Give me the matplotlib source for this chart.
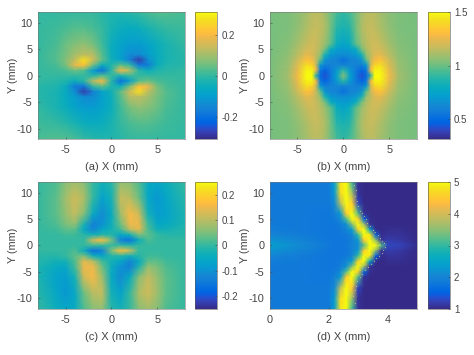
import numpy as np
import matplotlib
matplotlib.use('Agg')
import matplotlib.pyplot as plt
from matplotlib.colors import LinearSegmentedColormap

plt.rcParams['font.family'] = ['Liberation Sans', 'DejaVu Sans']
plt.rcParams['axes.unicode_minus'] = False

parula_colors = [
    [0.2081,0.1663,0.5292],[0.2116,0.1898,0.5777],[0.2123,0.2138,0.6270],[0.2081,0.2386,0.6771],
    [0.1959,0.2645,0.7279],[0.1707,0.2919,0.7792],[0.1253,0.3242,0.8303],[0.0591,0.3598,0.8683],
    [0.0117,0.3875,0.8820],[0.0060,0.4086,0.8828],[0.0165,0.4266,0.8786],[0.0329,0.4430,0.8720],
    [0.0498,0.4586,0.8641],[0.0629,0.4737,0.8554],[0.0723,0.4887,0.8467],[0.0779,0.5040,0.8384],
    [0.0793,0.5200,0.8312],[0.0749,0.5375,0.8263],[0.0641,0.5570,0.8240],[0.0488,0.5772,0.8228],
    [0.0343,0.5966,0.8199],[0.0265,0.6137,0.8135],[0.0239,0.6287,0.8038],[0.0231,0.6418,0.7913],
    [0.0228,0.6535,0.7768],[0.0267,0.6642,0.7607],[0.0384,0.6743,0.7436],[0.0590,0.6838,0.7254],
    [0.0843,0.6928,0.7062],[0.1133,0.7015,0.6859],[0.1453,0.7098,0.6646],[0.1801,0.7177,0.6424],
    [0.2178,0.7250,0.6193],[0.2586,0.7317,0.5954],[0.3022,0.7376,0.5712],[0.3482,0.7424,0.5473],
    [0.3953,0.7459,0.5244],[0.4420,0.7481,0.5033],[0.4871,0.7491,0.4840],[0.5300,0.7491,0.4661],
    [0.5709,0.7485,0.4494],[0.6099,0.7473,0.4337],[0.6473,0.7456,0.4188],[0.6834,0.7435,0.4044],
    [0.7184,0.7411,0.3905],[0.7525,0.7384,0.3768],[0.7858,0.7356,0.3633],[0.8185,0.7327,0.3498],
    [0.8507,0.7299,0.3360],[0.8824,0.7274,0.3217],[0.9139,0.7258,0.3063],[0.9450,0.7261,0.2886],
    [0.9739,0.7314,0.2666],[0.9938,0.7455,0.2403],[0.9990,0.7653,0.2164],[0.9955,0.7861,0.1967],
    [0.9880,0.8066,0.1794],[0.9789,0.8271,0.1633],[0.9697,0.8481,0.1475],[0.9626,0.8705,0.1309],
    [0.9589,0.8949,0.1132],[0.9598,0.9218,0.0948],[0.9661,0.9514,0.0755],[0.9763,0.9831,0.0538],
]
parula = LinearSegmentedColormap.from_list('parula', parula_colors, N=256)

# sample positions of the hand read grids, rows go from top to bottom
x_ac = [-8,-6,-5,-4,-3,-2,-1,0,1,2,3,4,5,6,8]
y_ac = [12,9,6,4,3,2,1,0,-1,-2,-3,-4,-6,-9,-12]
x_b = [-8,-6,-5,-4,-3.4,-3,-2.5,-2,-1.4,-.7,0,.7,1.4,2,2.5,3,3.4,4,5,6,8]
y_b = [12,9,6,5,4,3,2,1,0,-1,-2,-3,-4,-5,-6,-9,-12]
x_d = [0,1,2,2.2,2.4,2.6,2.8,3,3.2,3.4,3.6,3.8,4,4.4,5]
y_d = [12,10,8,6,5,4,3,2,1,0,-1,-2,-3,-4,-5,-6,-8,-10,-12]

values_a = [
    [0,0,0,0,0,0,-.01,-.02,-.02,-.01,0,.02,.03,.03,.02],
    [0,.01,.02,.03,.03,.02,0,-.03,-.05,-.06,-.05,-.03,-.01,0,.01],
    [0,.02,.05,.07,.08,.06,.01,-.05,-.08,-.10,-.10,-.08,-.05,-.03,0],
    [0,.03,.06,.10,.13,.12,.03,-.05,-.09,-.14,-.14,-.10,-.06,-.03,-.01],
    [0,.03,.07,.13,.27,.15,.04,-.04,-.08,-.16,-.28,-.13,-.06,-.03,-.01],
    [0,.02,.06,.18,.22,.06,-.05,-.02,.04,0,-.18,-.17,-.05,-.02,-.01],
    [0,.01,.02,.05,.03,-.10,-.20,-.01,.20,.12,-.01,-.05,-.02,-.01,0],
    [0,0,0,0,0,-.01,.03,0,-.03,.01,0,0,0,0,0],
    [0,-.01,-.02,-.05,-.01,.12,.20,-.01,-.20,-.10,.03,.05,.02,.01,0],
    [-.01,-.02,-.05,-.17,-.18,0,.04,-.02,-.05,.06,.22,.18,.06,.02,0],
    [-.01,-.03,-.06,-.13,-.28,-.16,-.08,-.04,.04,.15,.27,.13,.07,.03,0],
    [-.01,-.03,-.06,-.10,-.14,-.14,-.09,-.05,.03,.12,.13,.10,.06,.03,0],
    [0,-.03,-.05,-.08,-.10,-.10,-.08,-.05,.01,.06,.08,.07,.05,.02,0],
    [.01,0,-.01,-.03,-.05,-.06,-.05,-.03,0,.02,.03,.03,.02,.01,0],
    [.02,.03,.03,.02,0,-.01,-.02,-.02,-.01,0,0,0,0,0,0],
]

values_b = [
    [1.02,1.03,1.05,1.10,1.14,1.15,1.14,1.10,1.02,.94,.90,.94,1.02,1.10,1.14,1.15,1.14,1.10,1.05,1.03,1.02],
    [1.02,1.03,1.06,1.12,1.16,1.17,1.16,1.12,1.02,.88,.85,.88,1.02,1.12,1.16,1.17,1.16,1.12,1.06,1.03,1.02],
    [1.02,1.04,1.10,1.17,1.20,1.18,1.14,1.08,.98,.80,.75,.80,.98,1.08,1.14,1.18,1.20,1.17,1.10,1.04,1.02],
    [1.02,1.05,1.12,1.20,1.20,1.18,1.12,1.02,.80,.72,.70,.72,.80,1.02,1.12,1.18,1.20,1.20,1.12,1.05,1.02],
    [1.02,1.06,1.14,1.24,1.22,1.16,1.08,.85,.70,.66,.65,.66,.70,.85,1.08,1.16,1.22,1.24,1.14,1.06,1.02],
    [1.02,1.07,1.18,1.32,1.28,1.18,.98,.68,.62,.60,.52,.60,.62,.68,.98,1.18,1.28,1.32,1.18,1.07,1.02],
    [1.02,1.08,1.22,1.42,1.38,1.20,.70,.60,.60,.62,.60,.62,.60,.60,.70,1.20,1.38,1.42,1.22,1.08,1.02],
    [1.02,1.09,1.25,1.48,1.48,1.30,.55,.47,.56,.70,.90,.70,.56,.47,.55,1.30,1.48,1.48,1.25,1.09,1.02],
    [1.02,1.10,1.27,1.50,1.50,.90,.50,.42,.55,.75,1.05,.75,.55,.42,.50,.90,1.50,1.50,1.27,1.10,1.02],
    [1.02,1.09,1.25,1.48,1.48,1.30,.55,.47,.56,.70,.90,.70,.56,.47,.55,1.30,1.48,1.48,1.25,1.09,1.02],
    [1.02,1.08,1.22,1.42,1.38,1.20,.70,.60,.60,.62,.60,.62,.60,.60,.70,1.20,1.38,1.42,1.22,1.08,1.02],
    [1.02,1.07,1.18,1.32,1.28,1.18,.98,.68,.62,.60,.52,.60,.62,.68,.98,1.18,1.28,1.32,1.18,1.07,1.02],
    [1.02,1.06,1.14,1.24,1.22,1.16,1.08,.85,.70,.66,.65,.66,.70,.85,1.08,1.16,1.22,1.24,1.14,1.06,1.02],
    [1.02,1.05,1.12,1.20,1.20,1.18,1.12,1.02,.80,.72,.70,.72,.80,1.02,1.12,1.18,1.20,1.20,1.12,1.05,1.02],
    [1.02,1.04,1.10,1.17,1.20,1.18,1.14,1.08,.98,.80,.75,.80,.98,1.08,1.14,1.18,1.20,1.17,1.10,1.04,1.02],
    [1.02,1.03,1.06,1.12,1.16,1.17,1.16,1.12,1.02,.88,.85,.88,1.02,1.12,1.16,1.17,1.16,1.12,1.06,1.03,1.02],
    [1.02,1.03,1.05,1.10,1.14,1.15,1.14,1.10,1.02,.94,.90,.94,1.02,1.10,1.14,1.15,1.14,1.10,1.05,1.03,1.02],
]

values_c = [
    [0,.02,.06,.08,.06,0,-.03,-.01,.07,.06,.02,-.05,-.06,-.04,0],
    [0,.03,.08,.12,.09,0,-.07,-.03,.11,.10,.04,-.06,-.09,-.06,-.01],
    [0,.03,.07,.11,.06,-.05,-.11,-.05,.08,.16,.12,-.03,-.08,-.07,-.02],
    [0,.02,.05,.07,-.02,-.13,-.10,-.04,.04,.15,.15,.01,-.06,-.05,-.02],
    [0,.01,.03,.03,-.05,-.12,-.06,-.03,.01,.10,.14,.02,-.03,-.03,-.01],
    [0,0,.01,.01,-.01,-.03,-.01,-.01,-.06,-.03,.05,.03,0,-.01,-.01],
    [0,0,0,0,0,.12,.17,.05,-.13,-.16,-.04,.02,0,0,0],
    [0,0,0,0,0,.01,0,0,0,-.01,0,0,0,0,0],
    [0,0,0,.02,-.04,-.16,-.13,.05,.17,.12,0,0,0,0,0],
    [-.01,-.01,0,.03,.05,-.03,-.06,-.01,-.01,-.03,-.01,.01,.01,0,0],
    [-.01,-.03,-.03,.02,.14,.10,.01,-.03,-.06,-.12,-.05,.03,.03,.01,0],
    [-.02,-.05,-.06,.01,.15,.15,.04,-.04,-.10,-.13,-.02,.07,.05,.02,0],
    [-.02,-.07,-.08,-.03,.12,.16,.08,-.05,-.11,-.05,.06,.11,.07,.03,0],
    [-.01,-.06,-.09,-.06,.04,.10,.11,-.03,-.07,0,.09,.12,.08,.03,0],
    [0,-.04,-.06,-.05,.02,.06,.07,-.01,-.03,0,.06,.08,.06,.02,0],
]

values_d = [
    [1.85,1.85,1.85,2.40,4.80,5.00,3.00,1.10,1,1,1,1,1,1,1],
    [1.85,1.85,1.85,2.30,4.70,5.00,3.60,1.10,1,1,1,1,1,1,1],
    [1.85,1.85,1.85,2.10,3.80,5.00,4.50,1.30,1,1,1,1,1,1,1],
    [1.85,1.85,1.80,1.95,2.30,4.50,5.00,3.20,1.10,1,1,1,1,1,1],
    [1.85,1.85,1.80,1.85,2.10,3.20,5.00,4.60,1.60,1.05,1,1,1,1,1],
    [1.85,1.85,1.80,1.80,1.90,2.20,3.50,5.00,3.60,1.10,1,1,1,1,1],
    [1.90,1.85,1.80,1.80,1.85,2.00,2.40,4.60,5.00,2.40,1.05,1,1.05,1.05,1],
    [2.00,1.90,1.80,1.80,1.80,1.85,2.05,3.00,5.00,4.80,1.50,1.05,1.10,1.10,1],
    [2.20,2.00,1.80,1.80,1.80,1.80,1.95,2.30,4.50,5.00,3.50,1.10,1.20,1.15,1],
    [2.40,2.10,1.85,1.80,1.80,1.85,2.00,2.10,3.20,5.00,5.00,3.20,1.30,1.25,1.05],
    [2.20,2.00,1.80,1.80,1.80,1.80,1.95,2.30,4.50,5.00,3.50,1.10,1.20,1.15,1],
    [2.00,1.90,1.80,1.80,1.80,1.85,2.05,3.00,5.00,4.80,1.50,1.05,1.10,1.10,1],
    [1.90,1.85,1.80,1.80,1.85,2.00,2.40,4.60,5.00,2.40,1.05,1,1.05,1.05,1],
    [1.85,1.85,1.80,1.80,1.90,2.20,3.50,5.00,3.60,1.10,1,1,1,1,1],
    [1.85,1.85,1.80,1.85,2.10,3.20,5.00,4.60,1.60,1.05,1,1,1,1,1],
    [1.85,1.85,1.80,1.95,2.30,4.50,5.00,3.20,1.10,1,1,1,1,1,1],
    [1.85,1.85,1.85,2.10,3.80,5.00,4.50,1.30,1,1,1,1,1,1,1],
    [1.85,1.85,1.85,2.30,4.70,5.00,3.60,1.10,1,1,1,1,1,1,1],
    [1.85,1.85,1.85,2.40,4.80,5.00,3.00,1.10,1,1,1,1,1,1,1],
]

# loose dots along the outer edge of the band in (d)
speck_x = [2.85,2.92,2.88,2.95,3.0,3.05,3.12,3.2,3.28,3.3,3.42,3.5,3.58,3.68,3.76,3.82,3.88,3.9,3.85,3.8,3.72,3.62,3.55,3.45,3.35,3.22,3.15,3.05,2.98,2.92,2.88,2.84,2.9]
speck_y = [11.5,10.5,9.3,8.4,7.5,6.6,6.1,5.6,5.0,4.2,3.6,3.0,2.6,2.0,1.5,0.9,0.4,-0.3,-0.8,-1.4,-1.9,-2.4,-3.0,-3.5,-4.0,-4.6,-5.3,-6.0,-6.8,-7.6,-8.5,-9.6,-10.8]

W, H = 474, 355
TEXT = '#444444'

def box(left, top, right, bottom):
    return [left / W, 1 - bottom / H, (right - left) / W, (bottom - top) / H]

def draw_panel(fig, pos, cpos, x, y, z, clim, xlim, xticks, cticks, clabels, xlabel):
    ax = fig.add_axes(box(*pos))
    mesh = ax.pcolormesh(x, y, np.array(z), cmap=parula, vmin=clim[0], vmax=clim[1], shading='gouraud')
    ax.set_xlim(xlim)
    ax.set_ylim(-12, 12)
    ax.set_xticks(xticks)
    ax.set_yticks([-10, -5, 0, 5, 10])
    ax.tick_params(direction='in', length=1.5, width=0.4, labelsize=7.8, colors=TEXT, pad=4)
    ax.set_xlabel(xlabel, fontsize=8, color=TEXT, labelpad=5)
    ax.set_ylabel('Y (mm)', fontsize=7.8, color=TEXT, labelpad=-1)
    for s in ax.spines.values():
        s.set_linewidth(0.4)
        s.set_color('#777777')
    cax = fig.add_axes(box(*cpos))
    cb = fig.colorbar(mesh, cax=cax)
    cb.set_ticks(cticks)
    cb.set_ticklabels(clabels)
    cb.ax.tick_params(direction='in', length=1.5, width=0.4, labelsize=7, colors=TEXT, pad=3)
    cb.outline.set_linewidth(0.4)
    cb.outline.set_edgecolor('#555555')
    return ax

fig = plt.figure(figsize=(4.74, 3.55), dpi=100)

draw_panel(fig, (38, 12.3, 184.7, 139.3), (195.3, 12.3, 217.3, 139.3), x_ac, y_ac, values_a,
           (-0.31, 0.31), (-8, 8), [-5, 0, 5], [-0.2, 0, 0.2], ['-0.2', '0', '0.2'], '(a) X (mm)')
draw_panel(fig, (269.7, 12.3, 417, 139.3), (428, 12.3, 449.7, 139.3), x_b, y_b, values_b,
           (0.31, 1.5), (-8, 8), [-5, 0, 5], [0.5, 1, 1.5], ['0.5', '1', '1.5'], '(b) X (mm)')
draw_panel(fig, (38, 182, 184.7, 309), (195.3, 182, 217.3, 309), x_ac, y_ac, values_c,
           (-0.25, 0.25), (-8, 8), [-5, 0, 5], [-0.2, -0.1, 0, 0.1, 0.2], ['-0.2', '-0.1', '0', '0.1', '0.2'], '(c) X (mm)')
ax_d = draw_panel(fig, (269.7, 182, 417, 309), (428, 182, 449.7, 309), x_d, y_d, values_d,
                  (1, 5), (0, 5), [0, 2, 4], [1, 2, 3, 4, 5], ['1', '2', '3', '4', '5'], '(d) X (mm)')
ax_d.scatter(speck_x, speck_y, s=0.8, color='#c9c48a', linewidths=0, alpha=0.8)

fig.savefig('out.png', dpi=100)
